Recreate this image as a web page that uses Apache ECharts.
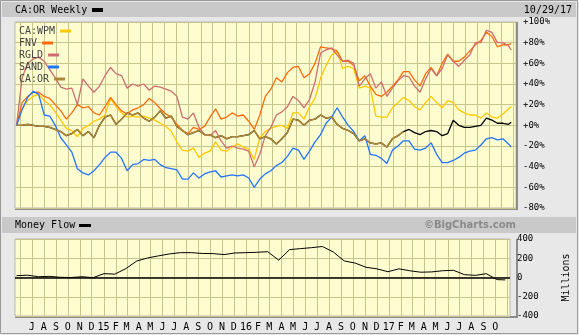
<!DOCTYPE html>
<html><head><meta charset="utf-8">
<script src="https://cdn.jsdelivr.net/npm/echarts@6/dist/echarts.min.js"></script>
<style>html,body{margin:0;padding:0;background:#e8e8e8}#c{width:579px;height:335px}</style>
</head><body><div id="c"></div>
<script>
// Weekly chart, read every other week (Fridays) from 2014-05-23, plus the final week 2017-10-27
const dates = [];
for (let i = 0; i < 90; i++) dates.push(+new Date(2014, 4, 23 + 14 * i));
dates.push(+new Date(2017, 9, 27));

// percent change since start
const wpm  = [0,16,24,28,30,24,20,13,5,-3, -5,-11,-3,0,4,6,10,26,18,12, 8,9,8,9,7,5,2,-1,-6,-16, -24,-25,-22,-31,-27,-25,-16,-24,-25,-21, -18,-21,-23,-33,-12,-6,-3,-1,0,-3, 12,12,6,18,26,46,58,68,72,55, 57,55,36,38,36,9,8,8,17,22, 27,24,18,15,22,28,22,17,24,22, 15,12,10,10,7,12,8,7,11,16, 18];
const fnv  = [0,22,28,32,32,28,26,20,14,6, 12,20,17,18,12,10,18,27,20,14, 11,15,17,20,26,22,16,11,8,1, -5,-8,-2,-4,-1,8,16,6,8,12, 9,10,4,-4,10,28,35,46,42,51, 56,57,46,50,60,76,75,74,72,62, 62,58,43,48,38,30,28,32,38,44, 52,52,44,38,50,56,48,60,69,62, 62,66,72,78,82,90,86,76,78,78, 79];
const rgld = [0,46,60,64,66,62,54,46,37,35, 36,20,45,38,32,38,48,56,50,48, 36,40,38,40,34,38,37,35,33,28, 8,6,12,-2,-9,-10,-5,-15,-22,-20, -22,-23,-25,-40,-28,-10,-2,10,13,18, 28,24,17,25,42,70,73,75,68,62, 63,60,38,45,50,36,42,28,36,43, 48,47,38,32,45,55,48,55,68,62, 57,63,68,80,80,92,90,80,80,77, 73];
const sand = [0,15,27,33,30,10,9,0,-12,-19, -26,-42,-46,-48,-44,-38,-31,-26,-26,-32, -44,-38,-37,-33,-34,-33,-38,-41,-42,-43, -52,-52,-46,-51,-47,-45,-44,-50,-49,-48, -49,-48,-51,-60,-52,-47,-44,-39,-36,-30, -22,-24,-33,-25,-16,-9,2,8,17,8, 0,-6,-15,-10,-28,-29,-32,-37,-24,-20, -15,-15,-23,-24,-22,-17,-28,-36,-36,-34, -31,-27,-25,-24,-19,-13,-12,-14,-13,-18, -21];
const caor = [0,0,1,0,-1,-1,-2,-4,-6,-10, -8,-4,-10,-6,-12,0,8,10,1,6, 12,10,12,7,4,8,14,7,9,-1, -5,-9,-7,-5,-9,-9,-12,-10,-13,-11, -11,-10,-9,-5,-13,-11,-13,-18,-13,-7, 6,5,0,5,6,10,7,8,1,-3, -5,-8,-15,-13,-17,-18,-17,-21,-13,-10, -6,-4,-7,-9,-6,-5,-6,-10,-8,5, 0,-2,-2,-1,0,7,5,2,2,1, 3];
const caorCompareEnd = 70; // comparison (brown) line stops here, main black line continues

// Money flow (millions), every fourth week
const mfDates = dates.filter((d, i) => i % 2 === 0);
const mf = [19,24,8,12,2,0,8,-2,40,35, 92,171,203,225,245,258,258,250,248,238, 255,258,262,268,180,290,300,310,322,265, 172,150,106,90,60,90,70,55,58,70, 75,30,22,40,-22,-25];

const pctTicks = [-80, 100, 20];
const mfTicks = [-400, 400, 200];
const axisStart = +new Date(2014, 4, 19);
const axisEnd = +new Date(2017, 10, 8);
const labelFrom = +new Date(2014, 6, 1);
const labelTo = +new Date(2017, 9, 1);

// monthly grid lines, June 2014 .. November 2017
const monthStarts = [];
for (let k = 0; k < 42; k++) monthStarts.push(+new Date(2014, 5 + k, 1));

const MONO = 'DejaVu Sans Mono';
const GRID = '#c8c48e';
const names = ['CA:WPM', 'FNV', 'RGLD', 'SAND', 'CA:OR'];
const colors = ['#ffc800', '#ff6a0a', '#cc6e6e', '#2474ff', '#ad8638'];

const pair = arr => dates.map((d, i) => [d, arr[i]]);

function monthLabel(v) {
  if (v < labelFrom - 864e5 || v > labelTo + 864e5) return '';
  const d = new Date(v);
  if (d.getDate() !== 1) return '';
  const m = d.getMonth();
  return m === 0 ? String(d.getFullYear()).slice(2) : 'JFMAMJJASOND'[m];
}

const xBase = {
  type: 'time', min: axisStart, max: axisEnd,
  minInterval: 28 * 864e5, maxInterval: 31 * 864e5, splitNumber: 41,
  axisLine: { show: false }, axisTick: { show: false },
  splitLine: { show: false }
};

// vertical month grid lines drawn through the axes' own scales
const monthGrid = (idx, yRange) => ({
  type: 'custom', xAxisIndex: idx, yAxisIndex: idx, silent: true, z: 1, clip: true,
  data: monthStarts.map(t => [t]),
  encode: { x: 0 },
  renderItem: (params, api) => {
    const t = api.value(0);
    const p1 = api.coord([t, yRange[1]]);
    const p2 = api.coord([t, yRange[0]]);
    const x = Math.round(p1[0]) + 0.5;
    return { type: 'line', shape: { x1: x, y1: p1[1], x2: x, y2: p2[1] }, style: { stroke: GRID, lineWidth: 1 } };
  }
});

const legendText = { fontFamily: MONO, fontSize: 10, color: '#444', lineHeight: 12 };

const chart = echarts.init(document.getElementById('c'), null, { renderer: 'canvas' });
chart.setOption({
  animation: false,
  backgroundColor: '#e8e8e8',
  grid: [
    { left: 15, top: 22, width: 501, height: 186, show: true, backgroundColor: '#fdfdd0', borderColor: '#b8b8b8', borderWidth: 1 },
    { left: 15, top: 239, width: 501, height: 77, show: true, backgroundColor: '#fdfdd0', borderColor: '#b8b8b8', borderWidth: 1 }
  ],
  legend: names.map((n, k) => ({
    data: [n], orient: 'horizontal', left: 19, top: 25 + 12 * k, align: 'right', z: 20,
    itemWidth: 11, itemHeight: 3, icon: 'rect', padding: 0, selectedMode: false, textStyle: legendText
  })),
  xAxis: [
    Object.assign({}, xBase, { gridIndex: 0, axisLabel: { show: false } }),
    Object.assign({}, xBase, { gridIndex: 1, axisLabel: { show: true, margin: 6, fontFamily: MONO, fontSize: 10, color: '#000', formatter: monthLabel, interval: 0 } })
  ],
  yAxis: [
    { type: 'value', gridIndex: 0, position: 'right', min: pctTicks[0], max: pctTicks[1], interval: pctTicks[2],
      axisLine: { show: false }, axisTick: { show: false },
      axisLabel: { margin: 7, fontFamily: MONO, fontSize: 9, color: '#000', formatter: v => (v >= 0 ? '+' : '') + v + '%' },
      splitLine: { lineStyle: { color: GRID, width: 1 } } },
    { type: 'value', gridIndex: 1, position: 'right', min: mfTicks[0], max: mfTicks[1], interval: mfTicks[2],
      name: 'Millions', nameLocation: 'middle', nameRotate: 90, nameGap: 51,
      nameTextStyle: { fontFamily: MONO, fontSize: 10, color: '#000' },
      axisLine: { show: false }, axisTick: { show: false },
      axisLabel: { margin: 7, fontFamily: MONO, fontSize: 9, color: '#000' },
      splitLine: { lineStyle: { color: GRID, width: 1 } } }
  ],
  series: [
    monthGrid(0, [pctTicks[0], pctTicks[1]]),
    monthGrid(1, [mfTicks[0], mfTicks[1]]),
    { name: 'CA:OR Weekly', type: 'line', data: pair(caor), symbol: 'none', lineStyle: { color: '#000', width: 1.3 }, itemStyle: { color: '#000' }, z: 2 },
    { name: 'CA:WPM', type: 'line', data: pair(wpm), symbol: 'none', lineStyle: { color: colors[0], width: 1.3 }, itemStyle: { color: colors[0] }, z: 3 },
    { name: 'FNV', type: 'line', data: pair(fnv), symbol: 'none', lineStyle: { color: colors[1], width: 1.3 }, itemStyle: { color: colors[1] }, z: 3 },
    { name: 'RGLD', type: 'line', data: pair(rgld), symbol: 'none', lineStyle: { color: colors[2], width: 1.3 }, itemStyle: { color: colors[2] }, z: 3 },
    { name: 'SAND', type: 'line', data: pair(sand), symbol: 'none', lineStyle: { color: colors[3], width: 1.3 }, itemStyle: { color: colors[3] }, z: 3 },
    { name: 'CA:OR', type: 'line', data: dates.map((d, i) => [d, i <= caorCompareEnd ? caor[i] : null]), symbol: 'none', lineStyle: { color: colors[4], width: 1.5 }, itemStyle: { color: colors[4] }, z: 4 },
    { name: 'Money Flow', type: 'line', xAxisIndex: 1, yAxisIndex: 1, data: mfDates.map((d, i) => [d, mf[i]]), symbol: 'none',
      lineStyle: { color: '#000', width: 1 }, itemStyle: { color: '#000' }, z: 3,
      markLine: { silent: true, symbol: 'none', label: { show: false },
        data: [{ yAxis: 0, lineStyle: { color: '#000', width: 1.5, type: 'solid' } }] } }
  ],
  graphic: [
    { type: 'rect', shape: { x: 0.5, y: 0.5, width: 577, height: 333 }, style: { fill: null, stroke: '#9a9a9a', lineWidth: 1 }, silent: true },
    { type: 'rect', shape: { x: 2, y: 2, width: 574, height: 15 }, style: { fill: '#c9c9c9' }, silent: true },
    { type: 'text', x: 15, y: 10, style: { text: 'CA:OR Weekly', font: '10px "DejaVu Sans Mono"', fill: '#000', verticalAlign: 'middle' }, silent: true },
    { type: 'rect', shape: { x: 92, y: 8, width: 11, height: 4 }, style: { fill: '#000' }, silent: true },
    { type: 'text', x: 572, y: 10, style: { text: '10/29/17', font: '10px "DejaVu Sans Mono"', fill: '#000', align: 'right', verticalAlign: 'middle' }, silent: true },
    { type: 'rect', shape: { x: 2, y: 217, width: 574, height: 16 }, style: { fill: '#c9c9c9' }, silent: true },
    { type: 'text', x: 15, y: 225.5, style: { text: 'Money Flow', font: '10px "DejaVu Sans Mono"', fill: '#000', verticalAlign: 'middle' }, silent: true },
    { type: 'rect', shape: { x: 79, y: 224, width: 12, height: 3 }, style: { fill: '#000' }, silent: true },
    { type: 'text', x: 516, y: 225, style: { text: '©BigCharts.com', font: 'bold 10px "DejaVu Sans"', fill: '#8a8a8a', align: 'right', verticalAlign: 'middle' }, silent: true },
    { type: 'line', shape: { x1: 15, y1: 209, x2: 518, y2: 209 }, style: { stroke: '#8c8c8c', lineWidth: 2 }, silent: true },
    { type: 'line', shape: { x1: 517, y1: 22, x2: 517, y2: 210 }, style: { stroke: '#8c8c8c', lineWidth: 2 }, silent: true },
    { type: 'line', shape: { x1: 15, y1: 317, x2: 518, y2: 317 }, style: { stroke: '#8c8c8c', lineWidth: 2 }, silent: true },
    { type: 'line', shape: { x1: 517, y1: 239, x2: 517, y2: 318 }, style: { stroke: '#8c8c8c', lineWidth: 2 }, silent: true }
  ]
});
</script>
</body></html>
